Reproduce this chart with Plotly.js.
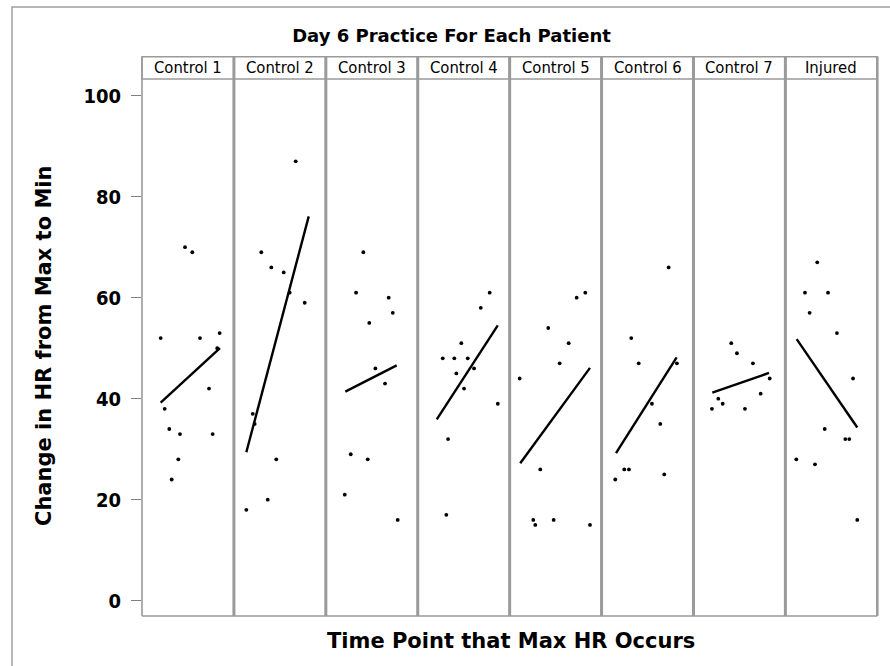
<!DOCTYPE html>
<html>
<head>
<meta charset="utf-8">
<script src="https://cdn.plot.ly/plotly-3.0.1.min.js"></script>
<style>html,body{margin:0;padding:0;background:#fff;}#chart{width:890px;height:666px;}</style>
</head>
<body>
<div id="chart"></div>
<script>
// ---- data ----
var panels = ['Control 1','Control 2','Control 3','Control 4','Control 5','Control 6','Control 7','Injured'];

var x1 = [46.8,54.7,20.3,63.1,84.5,81.9,72.9,24.7,29.7,41.3,76.9,39.5,32.3];
var y1 = [70,69,52,52,53,50,42,38,34,33,33,28,24];
var x2 = [67.2,29.8,40.7,54.2,60.7,77.0,20.5,22.6,46.1,36.8,13.5];
var y2 = [87,69,66,65,61,59,37,35,28,20,18];
var x3 = [40.8,32.9,68.4,72.8,47.3,53.9,64.4,27.1,45.6,20.6,78.2];
var y3 = [69,61,60,57,55,46,43,29,28,21,16];
var x4 = [78.3,68.6,47.4,27.2,39.8,54.4,61.3,42.0,50.4,87.1,33.0,31.1];
var y4 = [61,58,51,48,48,48,46,45,42,39,32,17];
var x5 = [82.3,72.9,42.0,64.2,54.4,10.9,33.3,25.7,27.9,47.9,87.4];
var y5 = [61,60,54,51,47,44,26,16,15,16,15];
var x6 = [73.0,32.3,40.4,82.0,54.8,63.9,24.7,29.8,14.9,68.2];
var y6 = [66,52,47,47,39,35,26,26,24,25];
var x7 = [41.1,47.3,64.7,82.9,73.1,27.0,31.8,20.1,56.0];
var y7 = [51,49,47,44,41,40,39,38,38];
var x8 = [34.7,21.3,46.4,26.4,56.1,73.6,42.8,65.2,69.5,11.9,32.2,78.2];
var y8 = [67,61,61,57,53,44,34,32,32,28,27,16];

// fitted regression line end points per panel
var fitX0 = [20.3,13.5,21.2,20.7,11.5,15.7,20.5,12.3];
var fitX1 = [84.8,81.4,77.1,87.1,87.4,81.7,82.2,78.2];
var fitY0 = [39.2,29.4,41.4,35.9,27.2,29.2,41.2,51.8];
var fitY1 = [50.0,76.1,46.6,54.5,46.1,48.2,45.1,34.3];

var yTicks = [0,20,40,60,80,100];

// ---- layout geometry (pixels) ----
var W = 890, H = 666;
var plotL = 142, plotR = 877.3, plotT = 79, plotB = 616;
var stripT = 56.7;
var pw = (plotR - plotL) / panels.length;
function px(x){ return x / W; }
function py(y){ return 1 - y / H; }

var xs = [x1,x2,x3,x4,x5,x6,x7,x8];
var ys = [y1,y2,y3,y4,y5,y6,y7,y8];

var titleFont = 'DejaVu Sans, sans-serif';
var condFont = 'DejaVu Sans Condensed, DejaVu Sans, sans-serif';

var traces = [];
var layout = {
  width: W, height: H,
  margin: {l:0, r:0, t:0, b:0},
  paper_bgcolor: '#ffffff',
  plot_bgcolor: 'rgba(0,0,0,0)',
  showlegend: false,
  font: {family: titleFont, color: '#000'},
  title: {text: '<b>Day 6 Practice For Each Patient</b>', font: {size: 18, family: titleFont, color:'#000'},
          x: px(451.5), xanchor: 'center', y: py(36), yanchor: 'middle', xref:'paper', yref:'paper'},
  yaxis: {
    domain: [py(plotB), py(plotT)],
    range: [-3.03, 103.3],
    tickvals: yTicks,
    ticks: 'outside', ticklen: 10, tickwidth: 1.2, tickcolor: '#808080',
    ticklabelstandoff: 6,
    tickfont: {size: 20, weight: 700, family: condFont, color:'#000'},
    showgrid: false, zeroline: false, showline: false,
    anchor: 'x', fixedrange: true
  },
  shapes: [],
  annotations: []
};

for (var i = 0; i < panels.length; i++) {
  var ax = i === 0 ? 'x' : 'x' + (i + 1);
  var axName = i === 0 ? 'xaxis' : 'xaxis' + (i + 1);
  var l = plotL + i * pw, r = plotL + (i + 1) * pw;
  layout[axName] = {
    domain: [px(l), px(r)],
    range: [0, 100],
    showticklabels: false, ticks: '', showgrid: false, zeroline: false, showline: false,
    anchor: 'y', fixedrange: true
  };
  traces.push({
    type: 'scatter', mode: 'markers', x: xs[i], y: ys[i], xaxis: ax, yaxis: 'y',
    marker: {color: '#000', size: 3.8}, hoverinfo: 'x+y'
  });
  traces.push({
    type: 'scatter', mode: 'lines', x: [fitX0[i], fitX1[i]], y: [fitY0[i], fitY1[i]], xaxis: ax, yaxis: 'y',
    line: {color: '#000', width: 2.4}, hoverinfo: 'skip'
  });
  // strip box
  layout.shapes.push({type:'rect', xref:'paper', yref:'paper', x0: px(l), x1: px(r), y0: py(plotT), y1: py(stripT),
    line:{color:'#9a9a9a', width:1.6}, fillcolor:'#ffffff', layer:'below'});
  layout.annotations.push({xref:'paper', yref:'paper', x: px((l + r) / 2), y: py((plotT + stripT) / 2),
    xanchor:'center', yanchor:'middle', showarrow:false, text: panels[i],
    font:{size:16.5, family:condFont, color:'#000'}});
  // panel dividers
  if (i > 0) {
    layout.shapes.push({type:'line', xref:'paper', yref:'paper', x0: px(l), x1: px(l), y0: py(plotB), y1: py(stripT),
      line:{color:'#9a9a9a', width:3}, layer:'above'});
  }
}
// outer panel frame (left, bottom, right)
layout.shapes.push({type:'line', xref:'paper', yref:'paper', x0: px(plotL), x1: px(plotL), y0: py(plotB), y1: py(stripT), line:{color:'#9a9a9a', width:1.6}});
layout.shapes.push({type:'line', xref:'paper', yref:'paper', x0: px(plotR), x1: px(plotR), y0: py(plotB), y1: py(stripT), line:{color:'#9a9a9a', width:2.5}});
layout.shapes.push({type:'line', xref:'paper', yref:'paper', x0: px(plotL), x1: px(plotR), y0: py(plotB), y1: py(plotB), line:{color:'#9a9a9a', width:1.6}});
// outer graph frame (only top/left visible)
layout.shapes.push({type:'rect', xref:'paper', yref:'paper', x0: px(12), x1: 1.2, y0: -0.2, y1: py(7), line:{color:'#a0a0a0', width:1.5}, fillcolor:'rgba(0,0,0,0)'});

// axis titles
layout.annotations.push({xref:'paper', yref:'paper', x: px(44), y: py(346), xanchor:'center', yanchor:'middle', textangle:-90,
  showarrow:false, text:'<b>Change in HR from Max to Min</b>', font:{size:21, family:titleFont, color:'#000'}});
layout.annotations.push({xref:'paper', yref:'paper', x: px(511), y: py(641), xanchor:'center', yanchor:'middle',
  showarrow:false, text:'<b>Time Point that Max HR Occurs</b>', font:{size:21, family:titleFont, color:'#000'}});

Plotly.newPlot('chart', traces, layout, {displayModeBar:false, staticPlot:true});
</script>
</body>
</html>
